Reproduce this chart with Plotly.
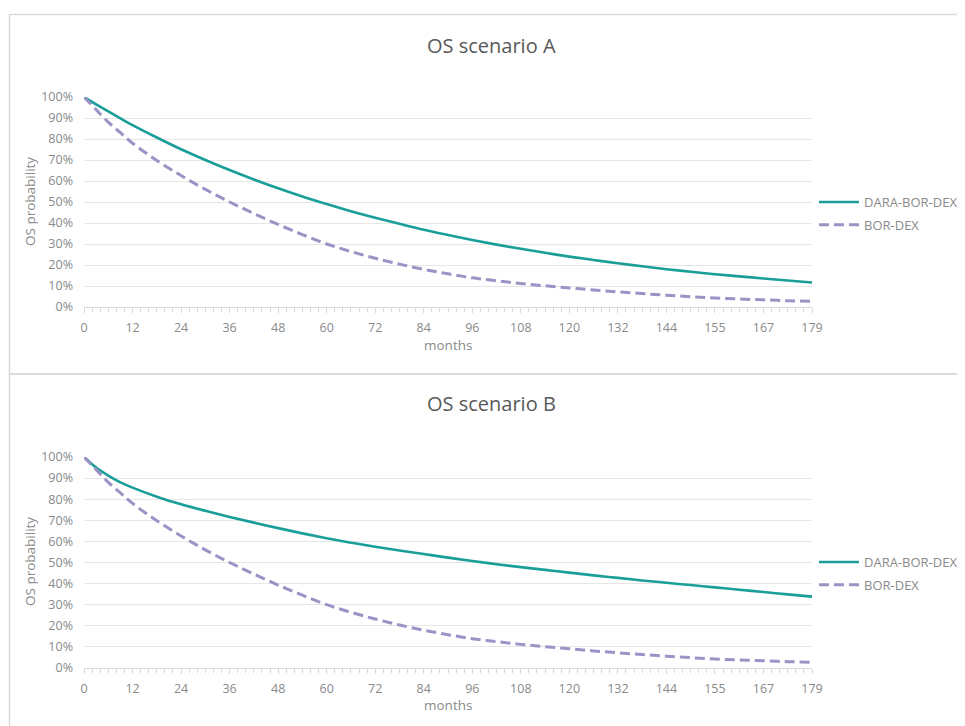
import plotly.graph_objects as go

# ---- data ----
months = [0, 3, 6, 9, 12, 18, 24, 30, 36, 42, 48, 54, 60, 66, 72, 78, 84, 90, 96,
          102, 108, 114, 120, 126, 132, 138, 144, 150, 156, 162, 168, 174, 180]

tick_pos = [0, 12, 24, 36, 48, 60, 72, 84, 96, 108, 120, 132, 144, 156, 168, 180]
tick_labels = ["0", "12", "24", "36", "48", "60", "72", "84", "96", "108", "120",
               "132", "144", "155", "167", "179"]

a_dara = [100, 96.5, 93.1, 89.8, 86.6, 80.7, 75.1, 70, 65.2, 60.7, 56.5, 52.6, 49,
          45.6, 42.5, 39.6, 36.8, 34.3, 31.9, 29.7, 27.7, 25.8, 24, 22.4, 20.8, 19.4,
          18.0, 16.8, 15.6, 14.6, 13.6, 12.6, 11.7]
a_bor = [100, 94, 88, 83, 78, 69.8, 62.6, 56, 50, 44.5, 39.3, 34.5, 30, 26.4, 23.2,
         20.4, 17.9, 15.8, 13.9, 12.5, 11.2, 10.1, 9.1, 8.1, 7.2, 6.4, 5.6, 4.9, 4.3,
         3.8, 3.4, 3.0, 2.7]
b_dara = [100, 95, 91.2, 88, 85.5, 81.2, 77.6, 74.5, 71.6, 68.9, 66.3, 63.8, 61.5,
          59.4, 57.5, 55.7, 54, 52.3, 50.7, 49.2, 47.8, 46.5, 45.2, 43.9, 42.7, 41.5,
          40.4, 39.3, 38.2, 37.1, 36, 34.9, 33.8]
b_bor = a_bor

series_names = ["DARA-BOR-DEX", "BOR-DEX"]
titles = ["OS scenario A", "OS scenario B"]

TEAL = "#1a9e99"
PURPLE = "#9b93c5"
GRID = "#e6e6e6"
TXT = "#8a8a8a"
FONT = "Open Sans"

W, H = 965, 726
OFF = 8  # page body margin

def px_x(p):
    return (p - OFF) / W

def px_y(p):
    return 1 - (p - OFF) / H

fig = go.Figure()

panels = [
    dict(dara=a_dara, bor=a_bor, xa="x", ya="y", legend="legend"),
    dict(dara=b_dara, bor=b_bor, xa="x2", ya="y2", legend="legend2"),
]

for i, p in enumerate(panels):
    fig.add_trace(go.Scatter(
        x=months, y=[v / 100 for v in p["dara"]], mode="lines", name=series_names[0],
        line=dict(color=TEAL, width=2.6, shape="spline"),
        xaxis=p["xa"], yaxis=p["ya"], legend=p["legend"], legendgroup=f"d{i}"))
    fig.add_trace(go.Scatter(
        x=months, y=[v / 100 for v in p["bor"]], mode="lines", name=series_names[1],
        line=dict(color=PURPLE, width=3, dash="10px,5px", shape="spline"),
        xaxis=p["xa"], yaxis=p["ya"], legend=p["legend"], legendgroup=f"b{i}"))

xdom = [px_x(84), px_x(812)]

def xaxis_cfg(anchor):
    return dict(
        domain=xdom, range=[0, 180], anchor=anchor, automargin=False,
        tickmode="array", tickvals=tick_pos, ticktext=tick_labels,
        ticks="outside", ticklen=5, tickcolor="#d9d9d9", tickwidth=1,
        showline=True, linecolor="#d9d9d9", linewidth=1,
        showgrid=False, zeroline=False,
        tickfont=dict(family=FONT, size=12.5, color=TXT),
        ticklabelstandoff=4,
        minor=dict(tickmode="linear", tick0=0, dtick=2, ticks="outside",
                   ticklen=4, tickcolor="#d9d9d9", showgrid=False),
    )

def yaxis_cfg(anchor, top, bottom):
    return dict(
        domain=[px_y(bottom), px_y(top)], range=[0, 1], anchor=anchor, automargin=False,
        tickmode="array", tickvals=[i / 10 for i in range(11)],
        ticktext=[f"{i * 10}%" for i in range(11)],
        showgrid=True, gridcolor=GRID, gridwidth=1, zeroline=False,
        showline=False, ticks="",
        tickfont=dict(family=FONT, size=12.5, color=TXT),
        ticklabelstandoff=10,
    )

legend_common = dict(xanchor="left", yanchor="top",
                     font=dict(family=FONT, size=13, color=TXT),
                     traceorder="grouped", tracegroupgap=3, itemwidth=40,
                     bgcolor="rgba(0,0,0,0)")

fig.update_layout(
    template="none",
    width=W, height=H, autosize=False,
    margin=dict(l=0, r=0, t=0, b=0, pad=0),
    paper_bgcolor="white", plot_bgcolor="white",
    font=dict(family=FONT, color=TXT),
    xaxis=xaxis_cfg("y"), yaxis=yaxis_cfg("x", 97, 307),
    xaxis2=xaxis_cfg("y2"), yaxis2=yaxis_cfg("x2", 457, 668),
    showlegend=True,
    legend=dict(x=px_x(814), y=px_y(187), **legend_common),
    legend2=dict(x=px_x(814), y=px_y(547), **legend_common),
)

# panel borders
border = "#d9d9d9"
fig.add_shape(type="rect", xref="paper", yref="paper",
              x0=px_x(9.5), x1=px_x(985), y0=px_y(374), y1=px_y(14.5),
              line=dict(color=border, width=1.5), layer="below")
fig.add_shape(type="rect", xref="paper", yref="paper",
              x0=px_x(9.5), x1=px_x(985), y0=px_y(745), y1=px_y(374),
              line=dict(color=border, width=1.5), layer="below")

annotations = []
for title, ty, my, yc in [(titles[0], 45, 345, 202), (titles[1], 404, 705, 562)]:
    annotations.append(dict(text=title, x=px_x(492), y=px_y(ty), xref="paper", yref="paper",
                            showarrow=False, xanchor="center", yanchor="middle",
                            font=dict(family=FONT, size=20, color="#595959")))
    annotations.append(dict(text="months", x=px_x(448), y=px_y(my), xref="paper", yref="paper",
                            showarrow=False, xanchor="center", yanchor="middle",
                            font=dict(family=FONT, size=13.5, color=TXT)))
    annotations.append(dict(text="OS probability", x=px_x(30), y=px_y(yc), xref="paper",
                            yref="paper", showarrow=False, textangle=-90,
                            xanchor="center", yanchor="middle",
                            font=dict(family=FONT, size=13.5, color=TXT)))
fig.update_layout(annotations=annotations)

fig.write_html("out.html")
